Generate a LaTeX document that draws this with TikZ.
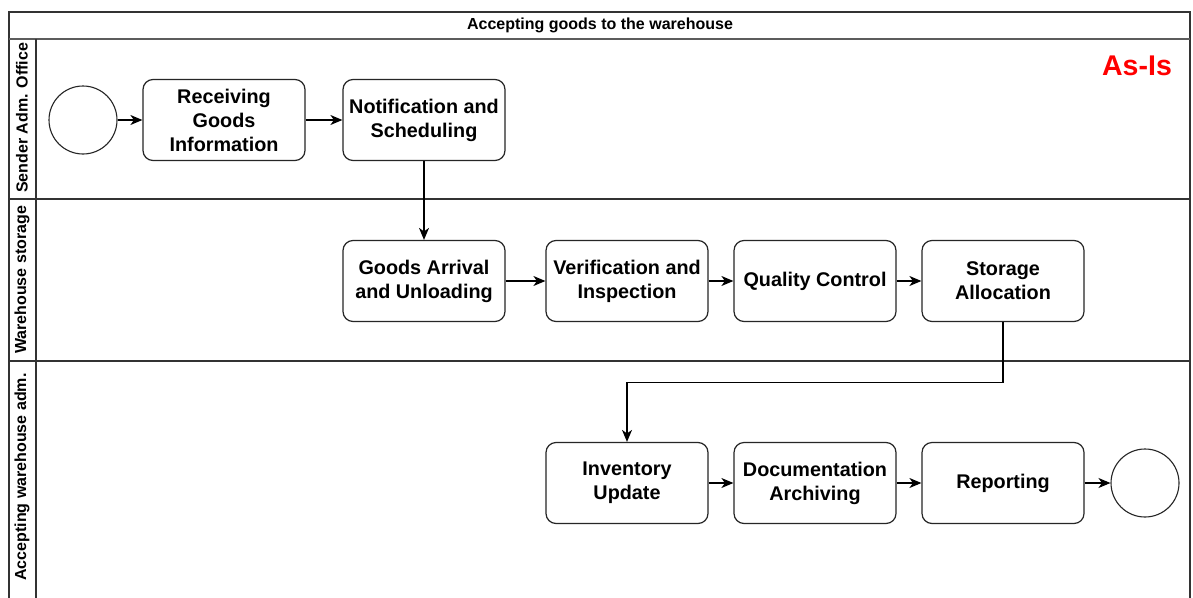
\documentclass[tikz,border=0pt]{standalone}
\usepackage{fontspec}
\setmainfont{Liberation Sans}
\usetikzlibrary{arrows.meta}
\definecolor{frame}{HTML}{333333}
\definecolor{asis}{HTML}{FF0000}
\begin{document}
\begin{tikzpicture}[x=1pt,y=-1pt,
  task/.style={draw=black!85, line width=1.2pt, rounded corners=10pt,
    minimum width=162pt, minimum height=81pt, inner sep=1pt, align=center,
    font=\fontsize{19.8}{24}\selectfont\bfseries},
  event/.style={draw=black!85, line width=1.1pt, circle, minimum size=68pt, inner sep=0pt},
  flow/.style={draw=black, line width=1.1pt, -{Stealth[length=12pt,width=10pt,inset=3.5pt]}},
  lane/.style={font=\fontsize{16}{18}\selectfont\bfseries, rotate=90},
  pool/.style={draw=frame, line width=1.4pt}]
\useasboundingbox (0,0) rectangle (1193,597);
\fill[white] (0,0) rectangle (1193,597);

% pool frame, title row and lanes
\draw[pool] (9,600) -- (9,12) -- (1190,12) -- (1190,600);
\draw[draw=frame!80, line width=1.2pt] (9,39) -- (1190,39);
\draw[draw=frame, line width=1.1pt] (36,39) -- (36,600);
\draw[draw=frame, line width=1.1pt] (9,199) -- (1190,199);
\draw[draw=frame, line width=1.1pt] (9,361) -- (1190,361);
\node (title) at (600,25) {\fontsize{16}{18}\selectfont\bfseries Accepting goods to the warehouse};
\node[lane] (lane1) at (22,118) {Sender Adm. Office};
\node[lane] (lane2) at (22,280) {Warehouse storage};
\node[lane] (lane3) at (22,477) {Accepting warehouse adm.};
\node[text=asis, font=\fontsize{28.5}{30}\selectfont\bfseries] (asis) at (1137,66) {As-Is};

% lane 1
\node[event] (start) at (83,120) {};
\node[task] (recv) at (224,120) {Receiving\\Goods\\Information};
\node[task] (notif) at (424,120) {Notification and\\Scheduling};

% lane 2
\node[task] (arrival) at (424,281) {Goods Arrival\\and Unloading};
\node[task] (verif) at (627,281) {Verification and\\Inspection};
\node[task] (qc) at (815,281) {Quality Control};
\node[task] (store) at (1003,281) {Storage\\Allocation};

% lane 3
\node[task] (inv) at (627,483) {Inventory\\Update};
\node[task] (doc) at (815,483) {Documentation\\Archiving};
\node[task] (rep) at (1003,483) {Reporting};
\node[event] (end) at (1145,483) {};

% sequence flows
\draw[flow] (start) -- (recv);
\draw[flow] (recv) -- (notif);
\draw[flow] (notif) -- (arrival);
\draw[flow] (arrival) -- (verif);
\draw[flow] (verif) -- (qc);
\draw[flow] (qc) -- (store);
\draw[flow] (store.south) -- ++(0,60) -| (inv.north);
\draw[flow] (inv) -- (doc);
\draw[flow] (doc) -- (rep);
\draw[flow] (rep) -- (end);
\end{tikzpicture}
\end{document}
